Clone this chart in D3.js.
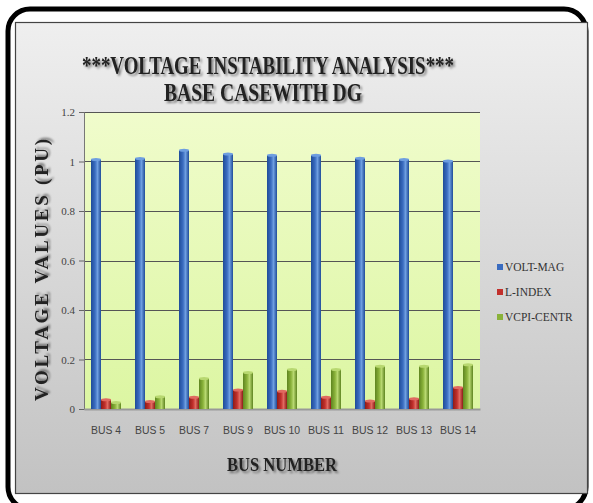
<!DOCTYPE html>
<html>
<head>
<meta charset="utf-8">
<script src="https://cdn.jsdelivr.net/npm/d3@7"></script>
<style>
  body { margin: 0; background: #fff; }
  svg { display: block; }
</style>
</head>
<body>
<div id="chart"></div>
<script>
// chart data
const buses = ['BUS 4', 'BUS 5', 'BUS 7', 'BUS 9', 'BUS 10', 'BUS 11', 'BUS 12', 'BUS 13', 'BUS 14'];
const voltMag = [1.008, 1.012, 1.045, 1.030, 1.025, 1.025, 1.013, 1.008, 1.002];
const lIndex = [0.037, 0.030, 0.047, 0.077, 0.072, 0.047, 0.032, 0.041, 0.087];
const vcpiCentr = [0.026, 0.050, 0.123, 0.147, 0.160, 0.160, 0.173, 0.173, 0.179];
const seriesNames = ['VOLT-MAG', 'L-INDEX', 'VCPI-CENTR'];
const yTicks = [0, 0.2, 0.4, 0.6, 0.8, 1, 1.2];

const width = 593, height = 503;
const margin = { top: 112, right: 113, bottom: 94, left: 84 };
const plotW = width - margin.left - margin.right;
const plotH = height - margin.top - margin.bottom;

const colors = ['#3a6cc0', '#c2302c', '#8ab23a'];
const darks = ['#1f4c98', '#8e1c18', '#5e8420'];
const lights = ['#6e9ee0', '#e06a60', '#b8d870'];
const serif = '"Liberation Serif", "DejaVu Serif", "Times New Roman", serif';

const svg = d3.select('#chart').append('svg')
  .attr('width', width).attr('height', height);

const defs = svg.append('defs');
const panelGrad = defs.append('linearGradient').attr('id', 'panel')
  .attr('x1', 0).attr('y1', 0).attr('x2', 0).attr('y2', 1);
panelGrad.append('stop').attr('offset', '0%').attr('stop-color', '#efefef');
panelGrad.append('stop').attr('offset', '100%').attr('stop-color', '#c2c2c2');

const plotGrad = defs.append('linearGradient').attr('id', 'plotbg')
  .attr('x1', 0).attr('y1', 0).attr('x2', 0).attr('y2', 1);
plotGrad.append('stop').attr('offset', '0%').attr('stop-color', '#f0fccc');
plotGrad.append('stop').attr('offset', '100%').attr('stop-color', '#dcf6a2');

// cylinder-ish bar gradients
colors.forEach((c, i) => {
  const g = defs.append('linearGradient').attr('id', 'bar' + i)
    .attr('x1', 0).attr('y1', 0).attr('x2', 1).attr('y2', 0);
  g.append('stop').attr('offset', '0%').attr('stop-color', darks[i]);
  g.append('stop').attr('offset', '40%').attr('stop-color', c);
  g.append('stop').attr('offset', '65%').attr('stop-color', lights[i]);
  g.append('stop').attr('offset', '100%').attr('stop-color', darks[i]);
});

const shadow = defs.append('filter').attr('id', 'shadow')
  .attr('x', '-20%').attr('y', '-50%').attr('width', '140%').attr('height', '200%');
shadow.append('feDropShadow').attr('dx', 2).attr('dy', 2)
  .attr('stdDeviation', 1.2).attr('flood-color', '#000').attr('flood-opacity', 0.45);

// frame
svg.append('rect')
  .attr('x', 8).attr('y', 9).attr('width', 578).attr('height', 500)
  .attr('rx', 22).attr('fill', 'none').attr('stroke', '#000').attr('stroke-width', 5);
svg.append('rect')
  .attr('x', 15.5).attr('y', 22.5).attr('width', 572).attr('height', 471)
  .attr('fill', 'url(#panel)').attr('stroke', '#444').attr('stroke-width', 1.2);

// title
const title = svg.append('text')
  .attr('text-anchor', 'middle')
  .attr('font-family', serif)
  .attr('font-weight', 'bold')
  .attr('font-size', 25)
  .attr('fill', '#222')
  .attr('filter', 'url(#shadow)');
title.append('tspan').attr('x', 268).attr('y', 74)
  .attr('textLength', 372).attr('lengthAdjust', 'spacingAndGlyphs')
  .text('***VOLTAGE INSTABILITY ANALYSIS***');
title.append('tspan').attr('x', 263).attr('y', 101)
  .attr('textLength', 198).attr('lengthAdjust', 'spacingAndGlyphs')
  .text('BASE CASEWITH DG');

const x0 = d3.scaleBand().domain(buses).range([0, plotW]).paddingInner(0).paddingOuter(0);
const x1 = d3.scaleBand().domain(seriesNames).range([7, x0.bandwidth() - 7]).padding(0);
const y = d3.scaleLinear().domain([0, 1.2]).range([plotH, 0]);

const g = svg.append('g').attr('transform', `translate(${margin.left},${margin.top})`);

g.append('rect').attr('width', plotW).attr('height', plotH).attr('fill', 'url(#plotbg)');

// gridlines
g.append('g')
  .selectAll('line').data(yTicks.filter(d => d > 0)).enter().append('line')
  .attr('x1', 0).attr('x2', plotW)
  .attr('y1', d => Math.round(y(d)) + 0.5).attr('y2', d => Math.round(y(d)) + 0.5)
  .attr('stroke', '#555').attr('stroke-width', 1);

// y axis
const yAxis = d3.axisLeft(y).tickValues(yTicks).tickSize(5).tickFormat(d3.format('~g'));
const gy = g.append('g').call(yAxis);
gy.select('.domain').attr('stroke', '#777');
gy.selectAll('.tick line').attr('stroke', '#666');
gy.selectAll('.tick text')
  .attr('font-family', serif).attr('font-size', 11)
  .attr('fill', '#444').attr('x', -9);

// x axis
const gx = g.append('g').attr('transform', `translate(0,${plotH})`)
  .call(d3.axisBottom(x0).tickSize(0));
gx.select('.domain').attr('stroke', '#999').attr('stroke-width', 2);
gx.selectAll('.tick text')
  .attr('font-family', '"Liberation Sans Narrow", "Arial Narrow", sans-serif')
  .attr('font-size', 10).attr('fill', '#444').attr('dy', '2.2em')
  .attr('textLength', d => d.length > 5 ? 36 : 30).attr('lengthAdjust', 'spacingAndGlyphs');

// bars
const allSeries = [voltMag, lIndex, vcpiCentr];
const groups = g.append('g').selectAll('g').data(buses).enter().append('g')
  .attr('transform', d => `translate(${x0(d)},0)`);

groups.selectAll('rect').data((d, i) => allSeries.map((s, k) => ({ k, v: s[i] })))
  .enter().append('rect')
  .attr('x', d => x1(seriesNames[d.k]))
  .attr('y', d => y(d.v))
  .attr('width', x1.bandwidth())
  .attr('height', d => plotH - y(d.v))
  .attr('fill', d => `url(#bar${d.k})`);

groups.selectAll('ellipse').data((d, i) => allSeries.map((s, k) => ({ k, v: s[i] })))
  .enter().append('ellipse')
  .attr('cx', d => x1(seriesNames[d.k]) + x1.bandwidth() / 2)
  .attr('cy', d => y(d.v))
  .attr('rx', x1.bandwidth() / 2).attr('ry', 1.5)
  .attr('fill', d => lights[d.k]);

// axis titles
svg.append('text')
  .attr('transform', 'translate(48,270) rotate(-90)')
  .attr('text-anchor', 'middle')
  .attr('font-family', serif)
  .attr('font-weight', 'bold').attr('font-size', 19)
  .attr('fill', '#222').attr('filter', 'url(#shadow)')
  .attr('textLength', 262).attr('lengthAdjust', 'spacing')
  .text('VOLTAGE  VALUES  (PU)');

svg.append('text')
  .attr('x', 282).attr('y', 471)
  .attr('text-anchor', 'middle')
  .attr('font-family', serif)
  .attr('font-weight', 'bold').attr('font-size', 18)
  .attr('fill', '#222').attr('filter', 'url(#shadow)')
  .attr('textLength', 110).attr('lengthAdjust', 'spacingAndGlyphs')
  .text('BUS NUMBER');

// legend
const legend = svg.append('g').attr('transform', 'translate(497,269)');
const li = legend.selectAll('g').data(seriesNames).enter().append('g')
  .attr('transform', (d, i) => `translate(0,${i * 25})`);
li.append('rect').attr('x', 0).attr('y', -5).attr('width', 6).attr('height', 6)
  .attr('fill', (d, i) => colors[i]);
li.append('text').attr('x', 8).attr('y', 2)
  .attr('font-family', serif).attr('font-size', 11.5)
  .attr('fill', '#333')
  .text(d => d);
</script>
</body>
</html>
